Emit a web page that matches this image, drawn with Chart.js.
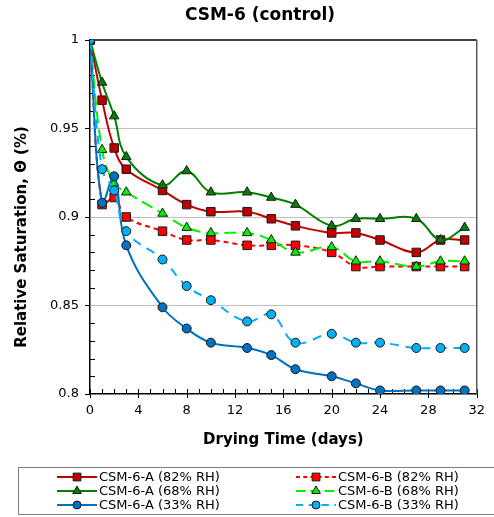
<!DOCTYPE html>
<html>
<head>
<meta charset="utf-8">
<script src="https://cdn.jsdelivr.net/npm/chart.js@4.4.1/dist/chart.umd.min.js"></script>
<style>
  html, body { margin: 0; padding: 0; background: #fff; }
</style>
</head>
<body>
<canvas id="myChart" width="494" height="517"></canvas>
<script>
var days = [0, 1, 2, 3, 6, 8, 10, 13, 15, 17, 20, 22, 24, 27, 29, 31];

var a82 = [1, 0.966, 0.939, 0.927, 0.915, 0.907, 0.903, 0.903, 0.899, 0.895, 0.891, 0.891, 0.887, 0.880, 0.887, 0.887];
var b82 = [1, 0.907, 0.911, 0.900, 0.892, 0.887, 0.887, 0.884, 0.884, 0.884, 0.880, 0.872, 0.872, 0.872, 0.872, 0.872];
var a68 = [1, 0.976, 0.957, 0.934, 0.918, 0.926, 0.914, 0.914, 0.911, 0.907, 0.895, 0.899, 0.899, 0.899, 0.887, 0.894];
var b68 = [1, 0.938, 0.919, 0.914, 0.902, 0.894, 0.891, 0.891, 0.887, 0.880, 0.883, 0.875, 0.875, 0.872, 0.875, 0.875];
var a33 = [1, 0.908, 0.923, 0.884, 0.849, 0.837, 0.829, 0.826, 0.822, 0.814, 0.810, 0.806, 0.802, 0.802, 0.802, 0.802];
var b33 = [1, 0.927, 0.915, 0.892, 0.876, 0.861, 0.853, 0.841, 0.845, 0.829, 0.834, 0.829, 0.829, 0.826, 0.826, 0.826];

var labels = ["CSM-6-A (82% RH)", "CSM-6-B (82% RH)", "CSM-6-A (68% RH)", "CSM-6-B (68% RH)", "CSM-6-A (33% RH)", "CSM-6-B (33% RH)"];
var xTicks = [0, 4, 8, 12, 16, 20, 24, 28, 32];
var yTicks = [0.8, 0.85, 0.9, 0.95, 1];

var FONT = "'DejaVu Sans', Verdana, sans-serif";

function pts(ys) {
  return days.map(function (d, i) { return { x: d, y: ys[i] }; });
}

function series(label, ys, color, dash, shape, radius, order) {
  return {
    label: label,
    data: pts(ys),
    borderColor: color,
    backgroundColor: color,
    borderWidth: 2,
    borderDash: dash,
    tension: 0.4,
    pointStyle: shape,
    pointRadius: radius,
    pointBackgroundColor: color,
    pointBorderColor: "#1a1a1a",
    pointBorderWidth: 1,
    order: order
  };
}

var datasets = [
  series(labels[0], a82, "#c00000", [], "rect", 6, 5),
  series(labels[1], b82, "#ff0000", [5, 4], "rect", 6, 4),
  series(labels[2], a68, "#008000", [], "triangle", 5.5, 3),
  series(labels[3], b68, "#00f000", [12, 6], "triangle", 5.5, 2),
  series(labels[4], a33, "#0070c0", [], "circle", 4.5, 1),
  series(labels[5], b33, "#00b0f0", [9, 7], "circle", 4.5, 0)
];

// ticks, frame, titles and legend drawn on the canvas
var extras = {
  id: "extras",
  beforeDatasetsDraw: function (chart) {
    var ctx = chart.ctx, a = chart.chartArea;
    var sx = chart.scales.x, sy = chart.scales.y;
    ctx.save();
    ctx.strokeStyle = "#000";
    ctx.lineWidth = 1;
    for (var d = 0; d <= 32; d++) {
      var px = Math.round(sx.getPixelForValue(d)) + 0.5;
      ctx.beginPath();
      ctx.moveTo(px, a.bottom - 5);
      ctx.lineTo(px, d % 4 === 0 ? a.bottom + 4 : a.bottom);
      ctx.stroke();
    }
    for (var k = 0; k <= 20; k++) {
      var py = Math.round(sy.getPixelForValue(0.8 + k * 0.01)) + 0.5;
      ctx.beginPath();
      if (k % 5 === 0) {
        ctx.moveTo(a.left - 5, py);
        ctx.lineTo(a.left, py);
      } else {
        ctx.moveTo(a.left, py);
        ctx.lineTo(a.left + 5, py);
      }
      ctx.stroke();
    }
    // top and right frame
    ctx.lineWidth = 1.5;
    ctx.beginPath();
    ctx.moveTo(a.left, a.top);
    ctx.lineTo(a.right, a.top);
    ctx.stroke();
    ctx.strokeStyle = "#595959";
    ctx.beginPath();
    ctx.moveTo(a.right, a.top);
    ctx.lineTo(a.right, a.bottom);
    ctx.stroke();
    ctx.restore();
  },
  afterDraw: function (chart) {
    var ctx = chart.ctx;
    ctx.save();
    ctx.fillStyle = "#000";
    ctx.textAlign = "center";
    ctx.textBaseline = "middle";
    ctx.font = "bold 17px " + FONT;
    ctx.fillText("CSM-6 (control)", 260, 16);

    ctx.translate(22, 237);
    ctx.rotate(-Math.PI / 2);
    ctx.font = "bold 15px " + FONT;
    ctx.fillText("Relative Saturation, \u0398 (%)", 0, 0);
    ctx.restore();

    // legend
    ctx.save();
    ctx.strokeStyle = "#7f7f7f";
    ctx.lineWidth = 1;
    ctx.strokeRect(18.5, 467.5, 490, 47);
    var cols = [57, 296];
    var rows = [477, 491, 505];
    chart.data.datasets.forEach(function (ds, i) {
      var x0 = cols[i % 2], y0 = rows[Math.floor(i / 2)];
      ctx.save();
      ctx.strokeStyle = ds.borderColor;
      ctx.lineWidth = 2;
      ctx.setLineDash(ds.borderDash.length ? [ds.borderDash[0] * 0.8, ds.borderDash[1] * 0.8] : []);
      ctx.beginPath();
      ctx.moveTo(x0, y0);
      ctx.lineTo(x0 + 40, y0);
      ctx.stroke();
      ctx.setLineDash([]);
      ctx.fillStyle = ds.pointBackgroundColor;
      ctx.strokeStyle = ds.pointBorderColor;
      ctx.lineWidth = 1;
      Chart.helpers.drawPoint(ctx, { pointStyle: ds.pointStyle, radius: ds.pointRadius - 0.5, rotation: 0, borderWidth: 1 }, x0 + 20, y0);
      ctx.restore();
      ctx.fillStyle = "#000";
      ctx.textAlign = "left";
      ctx.textBaseline = "middle";
      ctx.font = "13px " + FONT;
      ctx.fillText(ds.label, x0 + 42, y0 + 1);
    });
    ctx.restore();
  }
};

new Chart("myChart", {
  type: "line",
  data: { datasets: datasets },
  options: {
    responsive: false,
    animation: false,
    layout: { padding: { left: 8, right: 13, top: 40, bottom: 62 } },
    plugins: {
      legend: { display: false },
      title: { display: false },
      tooltip: { enabled: false }
    },
    scales: {
      x: {
        type: "linear",
        min: 0,
        max: 32,
        afterBuildTicks: function (s) { s.ticks = xTicks.map(function (v) { return { value: v }; }); },
        ticks: { color: "#000", font: { family: FONT, size: 13 }, padding: 9, maxRotation: 0 },
        grid: { display: false, drawTicks: false },
        border: { color: "#000", width: 1.5 },
        title: {
          display: true,
          text: "Drying Time (days)",
          color: "#000",
          font: { family: FONT, size: 15, weight: "bold" },
          padding: { top: 4, bottom: 6 }
        },
        afterFit: function (s) { s.height = 61; }
      },
      y: {
        type: "linear",
        min: 0.8,
        max: 1,
        afterBuildTicks: function (s) { s.ticks = yTicks.map(function (v) { return { value: v }; }); },
        ticks: {
          color: "#000",
          font: { family: FONT, size: 13 },
          padding: 11,
          callback: function (v) { return String(+v.toFixed(2)); }
        },
        grid: {
          drawTicks: false,
          color: function (c) {
            var v = c.tick ? c.tick.value : 0;
            return v > 0.801 && v < 0.999 ? "#bfbfbf" : "rgba(0,0,0,0)";
          },
          lineWidth: 1
        },
        border: { color: "#000", width: 1.5 },
        afterFit: function (s) { s.width = 82; }
      }
    }
  },
  plugins: [extras]
});
</script>
</body>
</html>
